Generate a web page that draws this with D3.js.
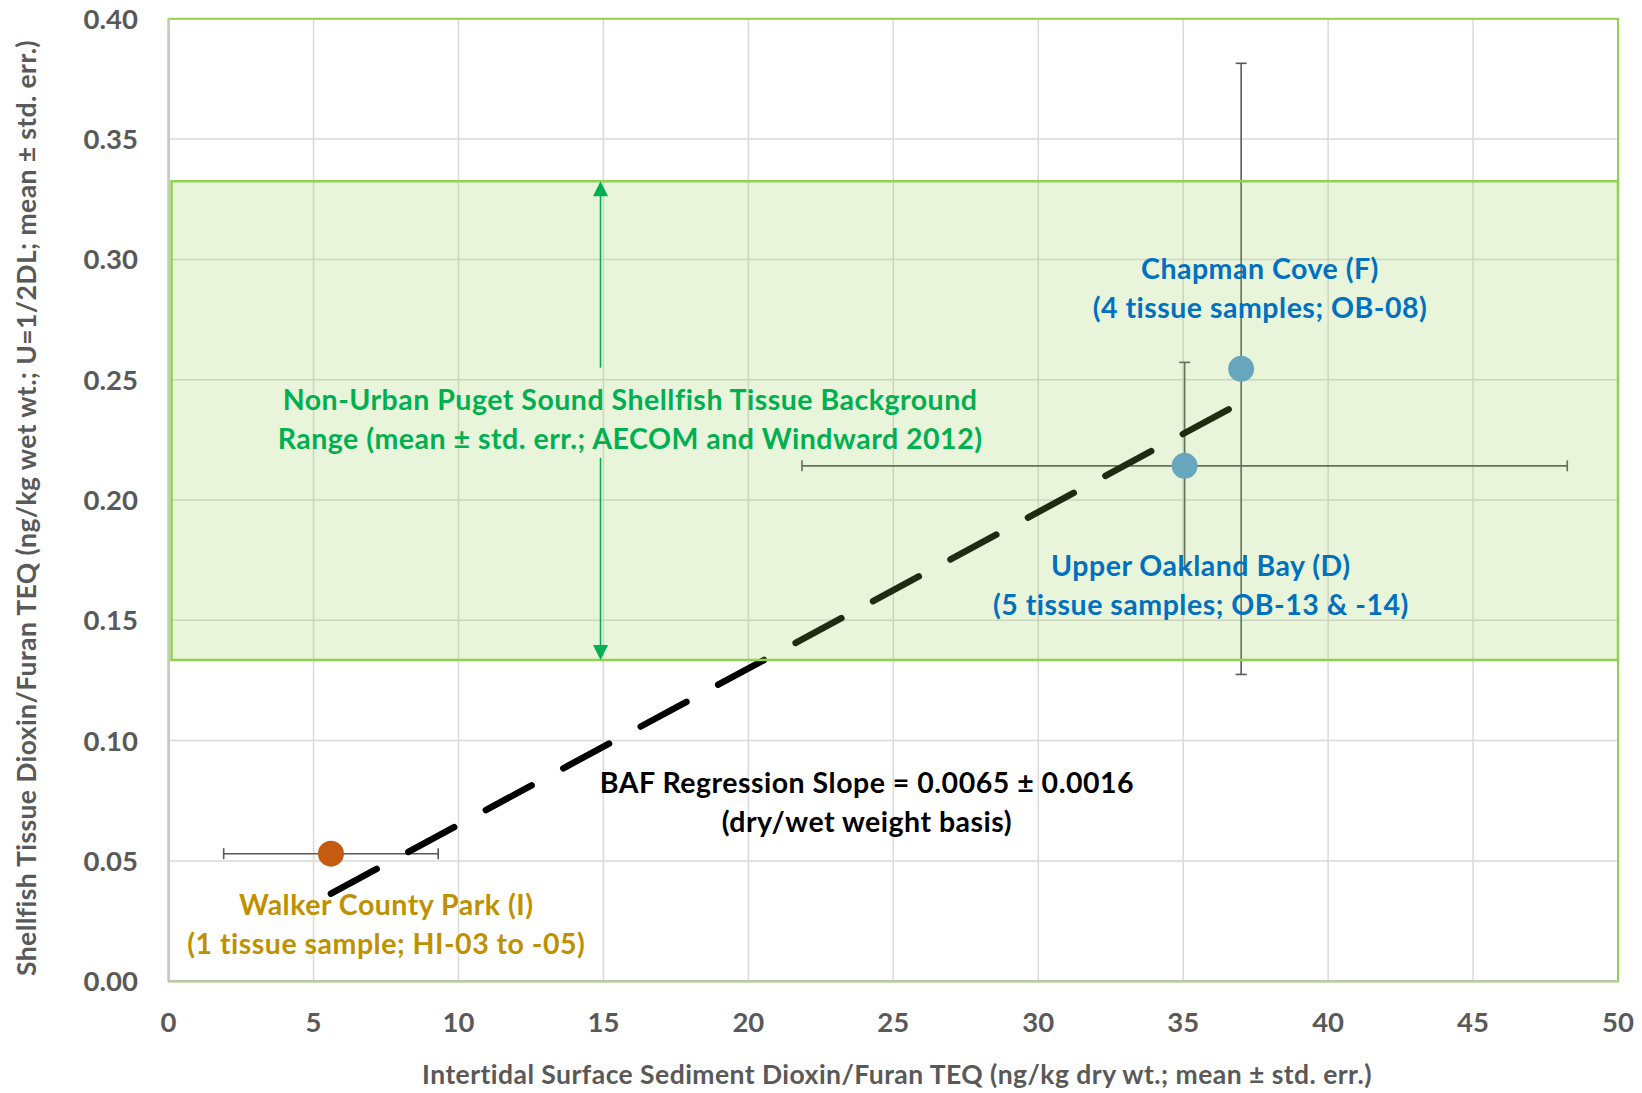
<!DOCTYPE html>
<html>
<head>
<meta charset="utf-8">
<script src="https://cdn.jsdelivr.net/npm/d3@7"></script>
<style>
  html, body { margin: 0; padding: 0; background: #fff; }
  svg { display: block; font-family: Lato, "Open Sans", sans-serif; font-weight: 700; }
</style>
</head>
<body>
<svg id="chart" width="1642" height="1093"></svg>
<script>
// Shellfish tissue vs. intertidal sediment dioxin/furan TEQ by site
const sites = ["Walker County Park (I)", "Upper Oakland Bay (D)", "Chapman Cove (F)"];
const siteSamples = ["(1 tissue sample; HI-03 to -05)", "(5 tissue samples; OB-13 & -14)", "(4 tissue samples; OB-08)"];
const sedimentTEQ = [5.6, 35.05, 37.0];      // ng/kg dry wt., mean
const sedimentSE = [3.7, 13.2, null];          // std. err.
const tissueTEQ = [0.053, 0.2142, 0.2545];     // ng/kg wet wt., mean
const tissueSE = [null, 0.043, 0.127];         // std. err.

// Non-urban Puget Sound background range (mean ± std. err.)
const backgroundMean = 0.233;
const backgroundSE = 0.0995;

// BAF regression through the origin
const bafSlope = 0.0065;
const bafSlopeSE = 0.0016;

const xTickValues = [0, 5, 10, 15, 20, 25, 30, 35, 40, 45, 50];
const yTickValues = [0, 0.05, 0.10, 0.15, 0.20, 0.25, 0.30, 0.35, 0.40];

const xTitle = "Intertidal Surface Sediment Dioxin/Furan TEQ (ng/kg dry wt.; mean ± std. err.)";
const yTitle = "Shellfish Tissue Dioxin/Furan TEQ (ng/kg wet wt.; U=1/2DL; mean ± std. err.)";
const backgroundLabel = ["Non-Urban Puget Sound Shellfish Tissue Background", "Range (mean ± std. err.; AECOM and Windward 2012)"];
const bafLabel = ["BAF Regression Slope = " + bafSlope.toFixed(4) + " ± " + bafSlopeSE.toFixed(4), "(dry/wet weight basis)"];

const svg = d3.select("#chart");
const plot = { left: 168.6, right: 1618, top: 18.8, bottom: 981.2 };

const x = d3.scaleLinear().domain([0, 50]).range([plot.left, plot.right]);
const y = d3.scaleLinear().domain([0, 0.4]).range([plot.bottom, plot.top]);

const grey = "#595959";
const green = "#00b050";
const blue = "#0070c0";
const gold = "#bf9000";
const siteColors = ["#c55a11", "#67a6bd", "#67a6bd"];
const labelColors = [gold, blue, blue];

svg.append("rect").attr("width", 1642).attr("height", 1093).attr("fill", "#fff");

// gridlines
const grid = svg.append("g");
grid.selectAll("line.gx").data(xTickValues.slice(1, -1)).join("line")
  .attr("x1", d => x(d)).attr("x2", d => x(d))
  .attr("y1", plot.top).attr("y2", plot.bottom)
  .attr("stroke", "#d9d9d9").attr("stroke-width", 1.5);
grid.selectAll("line.gy").data(yTickValues.slice(1, -1)).join("line")
  .attr("x1", plot.left).attr("x2", plot.right)
  .attr("y1", d => y(d)).attr("y2", d => y(d))
  .attr("stroke", "#d9d9d9").attr("stroke-width", 1.5);

// plot area border
svg.append("rect")
  .attr("x", plot.left).attr("y", plot.top)
  .attr("width", plot.right - plot.left).attr("height", plot.bottom - plot.top)
  .attr("fill", "none").attr("stroke", "#92d050").attr("stroke-width", 2);
svg.append("line").attr("x1", plot.left).attr("x2", plot.left).attr("y1", plot.top).attr("y2", plot.bottom)
  .attr("stroke", "#c3cbba").attr("stroke-width", 2);
svg.append("line").attr("x1", plot.left).attr("x2", plot.right).attr("y1", plot.bottom).attr("y2", plot.bottom)
  .attr("stroke", "#b8c9a6").attr("stroke-width", 2.5);

// error bars
const idx = d3.range(sites.length);
const cap = 5.5;
const eb = svg.append("g").attr("stroke", grey).attr("stroke-width", 1.6).attr("fill", "none");
idx.filter(i => sedimentSE[i] != null).forEach(i => {
  const x0 = x(sedimentTEQ[i] - sedimentSE[i]), x1 = x(sedimentTEQ[i] + sedimentSE[i]), yy = y(tissueTEQ[i]);
  eb.append("line").attr("x1", x0).attr("x2", x1).attr("y1", yy).attr("y2", yy);
  eb.append("line").attr("x1", x0).attr("x2", x0).attr("y1", yy - cap).attr("y2", yy + cap);
  eb.append("line").attr("x1", x1).attr("x2", x1).attr("y1", yy - cap).attr("y2", yy + cap);
});
idx.filter(i => tissueSE[i] != null).forEach(i => {
  const xx = x(sedimentTEQ[i]), y0 = y(tissueTEQ[i] - tissueSE[i]), y1 = y(tissueTEQ[i] + tissueSE[i]);
  eb.append("line").attr("x1", xx).attr("x2", xx).attr("y1", y0).attr("y2", y1);
  eb.append("line").attr("x1", xx - cap).attr("x2", xx + cap).attr("y1", y0).attr("y2", y0);
  eb.append("line").attr("x1", xx - cap).attr("x2", xx + cap).attr("y1", y1).attr("y2", y1);
});

// regression line
const xMin = d3.min(sedimentTEQ), xMax = d3.max(sedimentTEQ);
svg.append("path")
  .datum([xMin, xMax])
  .attr("d", d3.line().x(d => x(d)).y(d => y(bafSlope * d)))
  .attr("stroke", "#000").attr("stroke-width", 6.5)
  .attr("stroke-linecap", "round").attr("stroke-dasharray", "52 36")
  .attr("fill", "none");

// background range band (translucent over marks beneath)
svg.append("rect")
  .attr("x", x(0.1)).attr("y", y(backgroundMean + backgroundSE))
  .attr("width", x(50) - x(0.1))
  .attr("height", y(backgroundMean - backgroundSE) - y(backgroundMean + backgroundSE))
  .attr("fill", "#92d050").attr("fill-opacity", 0.21)
  .attr("stroke", "#92d050").attr("stroke-width", 2.5);

// site points
svg.append("g").selectAll("circle").data(idx).join("circle")
  .attr("cx", i => x(sedimentTEQ[i])).attr("cy", i => y(tissueTEQ[i]))
  .attr("r", 13).attr("fill", i => siteColors[i]);

// background range arrow
const arrowX = x(14.9);
const bandTop = y(backgroundMean + backgroundSE), bandBot = y(backgroundMean - backgroundSE);
const arr = svg.append("g");
arr.append("line").attr("x1", arrowX).attr("x2", arrowX).attr("y1", bandTop + 12).attr("y2", y(0.255))
  .attr("stroke", green).attr("stroke-width", 1.6);
arr.append("line").attr("x1", arrowX).attr("x2", arrowX).attr("y1", y(0.2175)).attr("y2", bandBot - 12)
  .attr("stroke", green).attr("stroke-width", 1.6);
arr.append("path").attr("d", `M${arrowX},${bandTop} l-7.5,15 l15,0 Z`).attr("fill", green);
arr.append("path").attr("d", `M${arrowX},${bandBot} l-7.5,-15 l15,0 Z`).attr("fill", green);

// axes tick labels
svg.append("g").selectAll("text").data(yTickValues).join("text")
  .attr("x", 138).attr("y", d => y(d)).attr("dy", "0.36em")
  .attr("text-anchor", "end").attr("fill", grey).attr("font-size", 27.5)
  .text(d => d.toFixed(2));
svg.append("g").selectAll("text").data(xTickValues).join("text")
  .attr("x", d => x(d)).attr("y", 1022.5).attr("dy", "0.36em")
  .attr("text-anchor", "middle").attr("fill", grey).attr("font-size", 27.5)
  .text(d => d);

// axis titles
svg.append("text").attr("x", 897).attr("y", 1074).attr("dy", "0.36em")
  .attr("text-anchor", "middle").attr("fill", grey).attr("font-size", 26.5)
  .attr("letter-spacing", 0.45)
  .text(xTitle);
svg.append("text").attr("transform", "translate(26,508) rotate(-90)").attr("dy", "0.36em")
  .attr("text-anchor", "middle").attr("fill", grey).attr("font-size", 26.5)
  .attr("letter-spacing", 0.4)
  .text(yTitle);

// multi-line annotations placed in data coordinates
function label(lines, cx, cy, color, size) {
  const g = svg.append("g");
  lines.forEach((t, k) => {
    g.append("text").attr("x", x(cx)).attr("y", y(cy) + k * 39).attr("dy", "0.36em")
      .attr("text-anchor", "middle").attr("fill", color).attr("font-size", size)
      .attr("letter-spacing", 0.5).text(t);
  });
}
const siteLabelPos = [[7.51, 0.0318], [35.61, 0.1728], [37.65, 0.2960]];
idx.forEach(i => label([sites[i], siteSamples[i]], siteLabelPos[i][0], siteLabelPos[i][1], labelColors[i], 28.5));
label(backgroundLabel, 15.92, 0.2416, green, 28.5);
label(bafLabel, 24.09, 0.0824, "#000", 28.5);
</script>
</body>
</html>
